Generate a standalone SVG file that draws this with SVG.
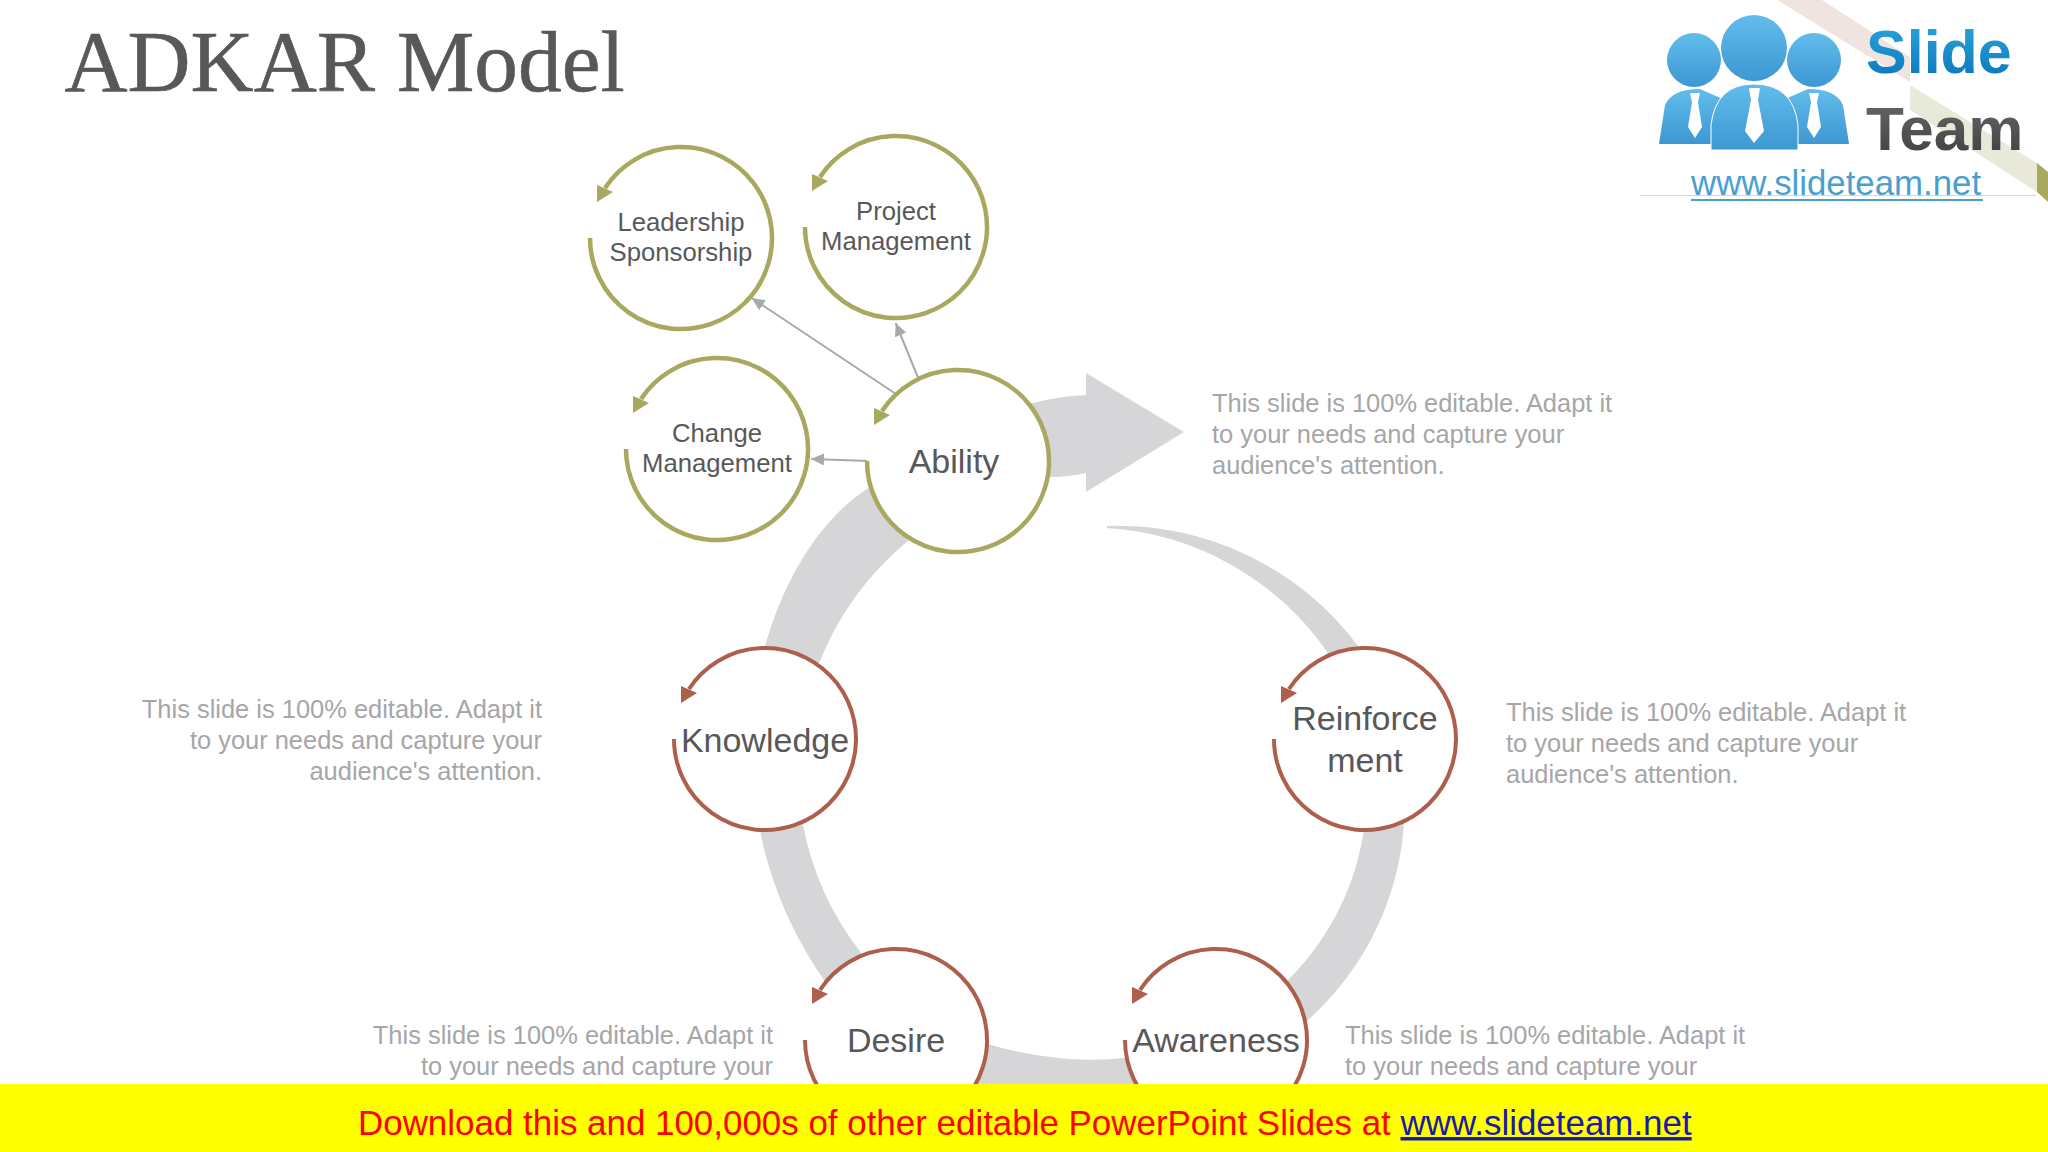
<svg xmlns="http://www.w3.org/2000/svg" width="2048" height="1152" viewBox="0 0 2048 1152">
<style>
text{font-family:"Liberation Sans",Arial,sans-serif}
.title{font-family:"Liberation Serif","Times New Roman",serif;font-size:87.300px;fill:#58585a;stroke:#58585a;stroke-width:.6}
.node{fill:#58585a;text-anchor:middle}
.s{font-size:25.700px}
.b{font-size:34px}
.body{font-size:25.450px;fill:#a6a6a8}
.end{text-anchor:end}
.disc{fill:#fff}
.arc{fill:none;stroke:currentColor}
.tip{fill:currentColor}
.ol{color:#a8a85f;stroke-width:4.500}
.rd{color:#ad5f4b;stroke-width:4}
.conn{stroke:#a7a9ac;stroke-width:2;fill:none;marker-end:url(#ah)}
</style>
<defs>
<marker id="ah" markerUnits="userSpaceOnUse" markerWidth="14" markerHeight="12" refX="13" refY="6" orient="auto"><path d="M0 0L13 6L0 12Z" fill="#a7a9ac"/></marker>
<g id="ring"><circle class="disc" r="91"/><path class="arc" d="M-91 0A91 91 0 1 0 -76 -50"/><path class="tip" d="M-84 -36L-84 -53L-68 -46Z"/></g>
<linearGradient id="bl" x1="0" y1="0" x2="0" y2="1"><stop offset="0" stop-color="#62bdec"/><stop offset="1" stop-color="#3d97d2"/></linearGradient>
<linearGradient id="bt" x1="0" y1="0" x2="0" y2="1"><stop offset="0" stop-color="#2ba8e0"/><stop offset="1" stop-color="#0a72b8"/></linearGradient>
<linearGradient id="gt" x1="0" y1="0" x2="0" y2="1"><stop offset="0" stop-color="#6a6a6a"/><stop offset="1" stop-color="#3e3e3e"/></linearGradient>
</defs>
<rect width="2048" height="1152" fill="#fff"/>
<g id="corner">
<path d="M1777 0L1822 0L1910 57L1910 82Z" fill="#efe4e0"/>
<path d="M1910 85L2037 163L2037 192L1910 110Z" fill="#e9e9d9"/>
<path d="M2037 163L2048 172L2048 202L2037 192Z" fill="#a8a85f"/>
</g>
<text class="title" x="64.500" y="91">ADKAR Model</text>
<g id="logo">
<path d="M1659 144L1665 105Q1672 89 1700 89L1725 100L1725 144Z M1849 144L1843 105Q1836 89 1808 89L1783 100L1783 144Z" fill="url(#bl)"/>
<circle cx="1694" cy="60" r="27" fill="url(#bl)"/>
<circle cx="1814" cy="60" r="27" fill="url(#bl)"/>
<circle cx="1754" cy="48" r="33" fill="url(#bl)"/>
<path d="M1711 150L1711 125Q1716 84 1754 84Q1793 84 1798 125L1798 150Z" fill="url(#bl)" stroke="#fff" stroke-width="1"/>
<path d="M1690 93H1700L1698 102L1702 127L1695 138L1688 127L1692 102Z M1749 88H1760L1758 100L1764 131L1754 143L1745 131L1751 100Z M1809 93H1819L1817 102L1821 127L1814 138L1807 127L1811 102Z" fill="#fff"/>
<text x="1866" y="73" font-size="61" font-weight="700" fill="url(#bt)">Slide</text>
<text x="1866" y="150" font-size="62" font-weight="700" fill="url(#gt)">Team</text>
<path d="M1640 195.500H2036" stroke="#dcd4d2" stroke-width="1"/>
<text x="1691" y="195" font-size="34.800" fill="#4a9fd0">www.slideteam.net</text>
<path d="M1691 200H1983" stroke="#4a9fd0" stroke-width="2"/>
</g>
<g id="connectors">
<path id="big-arrow" fill="#d6d6d8" d="M1107 526A300 300 0 0 1 1358 646A290 290 0 0 1 1308 1020A334 334 0 0 1 824 980A400 400 0 0 1 752 740C752 640 800 530 870 487Q950 437 1033 403Q1060 396 1086 395L1086 373L1184 432L1086 492L1086 473Q1068 477 1050 477L909 540A300 300 0 0 0 803 825A300 300 0 0 0 862 954Q920 1040 987 1044Q1060 1065 1125 1058Q1220 1045 1288 980A265 265 0 0 0 1325 649A290 290 0 0 0 1107 528Z"/>
<path class="conn" d="M894.500 393L751.600 298"/>
<path class="conn" d="M917.800 377L895.700 323"/>
<path class="conn" d="M870 461L811 459"/>
</g>
<g id="leadership" class="ol" transform="translate(681 238)"><use href="#ring"/><text class="node s" y="-7">Leadership</text><text class="node s" y="23">Sponsorship</text></g>
<g id="project" class="ol" transform="translate(896 227)"><use href="#ring"/><text class="node s" y="-7">Project</text><text class="node s" y="23">Management</text></g>
<g id="change" class="ol" transform="translate(717 449)"><use href="#ring"/><text class="node s" y="-7">Change</text><text class="node s" y="23">Management</text></g>
<g id="ability" class="ol" transform="translate(958 461)"><use href="#ring"/><text class="node b" x="-4" y="12">Ability</text></g>
<g id="knowledge" class="rd" transform="translate(765 739)"><use href="#ring"/><text class="node b" y="13">Knowledge</text></g>
<g id="reinforcement" class="rd" transform="translate(1365 739)"><use href="#ring"/><text class="node b" y="-9">Reinforce</text><text class="node b" y="33">ment</text></g>
<g id="desire" class="rd" transform="translate(896 1040)"><use href="#ring"/><text class="node b" y="12">Desire</text></g>
<g id="awareness" class="rd" transform="translate(1216 1040)"><use href="#ring"/><text class="node b" y="12">Awareness</text></g>
<g id="notes">
<text class="body" x="1212" y="412">This slide is 100% editable. Adapt it</text><text class="body" x="1212" y="443">to your needs and capture your</text><text class="body" x="1212" y="474">audience's attention.</text>
<text class="body" x="1506" y="721">This slide is 100% editable. Adapt it</text><text class="body" x="1506" y="752">to your needs and capture your</text><text class="body" x="1506" y="783">audience's attention.</text>
<text class="body end" x="542" y="718">This slide is 100% editable. Adapt it</text><text class="body end" x="542" y="749">to your needs and capture your</text><text class="body end" x="542" y="780">audience's attention.</text>
<text class="body end" x="773" y="1044">This slide is 100% editable. Adapt it</text><text class="body end" x="773" y="1075">to your needs and capture your</text>
<text class="body" x="1345" y="1044">This slide is 100% editable. Adapt it</text><text class="body" x="1345" y="1075">to your needs and capture your</text>
</g>
<g id="banner">
<rect y="1084" width="2048" height="68" fill="#ff0"/>
<text x="358" y="1135" font-size="34.930" fill="#f00">Download this and 100,000s of other editable PowerPoint Slides at <tspan fill="#1a1aa8" text-decoration="underline">www.slideteam.net</tspan></text>
</g>
</svg>
